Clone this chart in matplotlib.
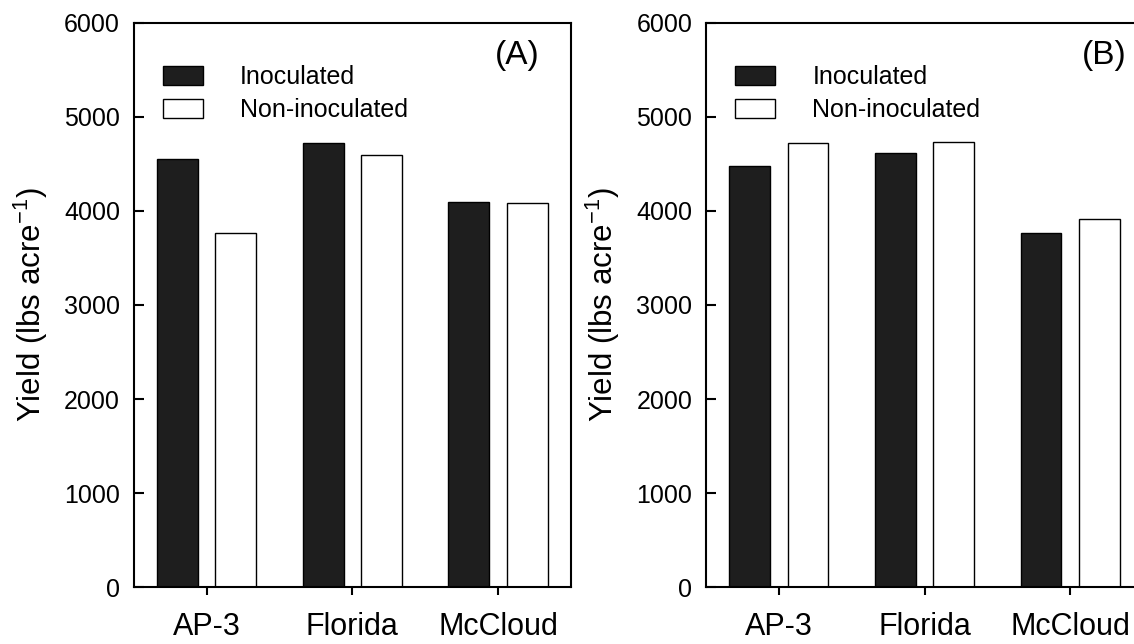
import matplotlib
matplotlib.use("Agg")
import matplotlib.pyplot as plt
import numpy as np

plt.rcParams['font.family'] = ['Liberation Sans', 'DejaVu Sans']
plt.rcParams['mathtext.fontset'] = 'custom'
plt.rcParams['mathtext.rm'] = 'Liberation Sans'
plt.rcParams['mathtext.it'] = 'Liberation Sans'

cultivars = ['AP-3', 'Florida', 'McCloud']
inoc_a = [4550, 4720, 4095]
noninoc_a = [3765, 4598, 4085]
inoc_b = [4480, 4620, 3767]
noninoc_b = [4723, 4733, 3913]
panels = ['(A)', '(B)']

fig = plt.figure(figsize=(11.34, 6.44), dpi=100)
ax_a = fig.add_axes([0.118, 0.0885, 0.3854, 0.8758])
ax_b = fig.add_axes([0.6226, 0.0885, 0.3854, 0.8758])

barWidth = 0.28
offset = 0.2
x = np.arange(len(cultivars))

for ax, inoc, non, tag, tagx in [(ax_a, inoc_a, noninoc_a, panels[0], 0.929),
                                  (ax_b, inoc_b, noninoc_b, panels[1], 0.963)]:
    ax.bar(x - offset, inoc, width=barWidth, color='#1e1e1e', edgecolor='black',
           linewidth=1.0, label='Inoculated')
    ax.bar(x + offset, non, width=barWidth, color='white', edgecolor='black',
           linewidth=1.0, label='Non-inoculated')
    ax.set_xlim(-0.5, 2.5)
    ax.set_ylim(0, 6000)
    ax.set_yticks(np.arange(0, 6001, 1000))
    ax.set_xticks(x)
    ax.set_xticklabels(cultivars, fontsize=22)
    ax.tick_params(axis='y', direction='in', length=7, width=1.5, labelsize=18, pad=10)
    ax.tick_params(axis='x', direction='out', length=6, width=1.5, pad=12)
    for s in ax.spines.values():
        s.set_linewidth(1.5)
    ax.set_ylabel('Yield (lbs acre$^{-1}$)', fontsize=22.5, labelpad=10)
    ax.text(tagx, 0.943, tag, transform=ax.transAxes, ha='right', va='center', fontsize=24)
    ax.legend(loc='upper left', bbox_to_anchor=(0.066, 0.925), frameon=False,
              fontsize=18, handlelength=1.6, handleheight=0.8, handletextpad=1.5,
              labelspacing=0.35, borderpad=0, borderaxespad=0)

plt.savefig('out.png', dpi=100)
